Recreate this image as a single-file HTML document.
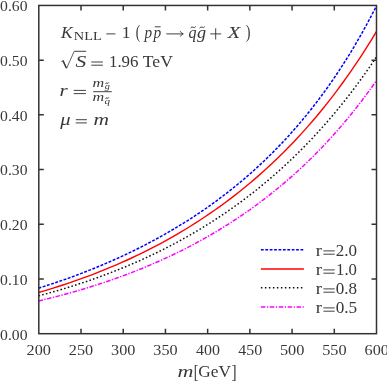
<!DOCTYPE html>
<html><head><meta charset="utf-8"><style>
html,body{margin:0;padding:0;background:#fff;}
svg{display:block;font-family:"Liberation Serif",serif;fill:#383838;}
</style></head><body>
<svg width="387" height="381" viewBox="0 0 387 381">
<rect width="387" height="381" fill="#fff"/>
<g fill="none" stroke-width="1.5">
<path d="M38.50,288.17 L43.40,286.63 L48.30,285.06 L53.20,283.44 L58.09,281.79 L62.99,280.09 L67.89,278.36 L72.79,276.58 L77.69,274.77 L82.59,272.90 L87.49,271.00 L92.38,269.05 L97.28,267.06 L102.18,265.01 L107.08,262.92 L111.98,260.78 L116.88,258.60 L121.78,256.36 L126.67,254.06 L131.57,251.72 L136.47,249.32 L141.37,246.86 L146.27,244.34 L151.17,241.77 L156.07,239.13 L160.96,236.43 L165.86,233.67 L170.76,230.84 L175.66,227.94 L180.56,224.98 L185.46,221.94 L190.36,218.82 L195.25,215.63 L200.15,212.35 L205.05,209.00 L209.95,205.56 L214.85,202.03 L219.75,198.42 L224.64,194.70 L229.54,190.90 L234.44,186.99 L239.34,182.97 L244.24,178.85 L249.14,174.62 L254.04,170.27 L258.93,165.80 L263.83,161.20 L268.73,156.48 L273.63,151.61 L278.53,146.61 L283.43,141.47 L288.33,136.17 L293.22,130.71 L298.12,125.09 L303.02,119.29 L307.92,113.32 L312.82,107.16 L317.72,100.81 L322.62,94.25 L327.51,87.49 L332.41,80.50 L337.31,73.28 L342.21,65.82 L347.11,58.11 L352.01,50.14 L356.91,41.89 L361.80,33.35 L366.70,24.51 L371.60,15.36 L376.50,5.88" stroke="#0000ff" stroke-dasharray="2.9,1.5"/>
<path d="M38.50,292.48 L43.40,291.05 L48.30,289.59 L53.20,288.08 L58.09,286.54 L62.99,284.96 L67.89,283.33 L72.79,281.66 L77.69,279.95 L82.59,278.19 L87.49,276.39 L92.38,274.55 L97.28,272.65 L102.18,270.71 L107.08,268.72 L111.98,266.68 L116.88,264.59 L121.78,262.44 L126.67,260.25 L131.57,258.00 L136.47,255.69 L141.37,253.32 L146.27,250.90 L151.17,248.42 L156.07,245.88 L160.96,243.27 L165.86,240.60 L170.76,237.87 L175.66,235.07 L180.56,232.20 L185.46,229.26 L190.36,226.25 L195.25,223.16 L200.15,220.00 L205.05,216.76 L209.95,213.45 L214.85,210.04 L219.75,206.56 L224.64,202.99 L229.54,199.33 L234.44,195.58 L239.34,191.74 L244.24,187.79 L249.14,183.76 L254.04,179.61 L258.93,175.37 L263.83,171.01 L268.73,166.55 L273.63,161.96 L278.53,157.26 L283.43,152.44 L288.33,147.50 L293.22,142.42 L298.12,137.21 L303.02,131.86 L307.92,126.37 L312.82,120.73 L317.72,114.94 L322.62,108.99 L327.51,102.88 L332.41,96.60 L337.31,90.14 L342.21,83.51 L347.11,76.69 L352.01,69.68 L356.91,62.46 L361.80,55.04 L366.70,47.41 L371.60,39.55 L376.50,31.47" stroke="#ff0000" stroke-width="1.4"/>
<path d="M38.50,295.87 L43.40,294.56 L48.30,293.22 L53.20,291.84 L58.09,290.42 L62.99,288.97 L67.89,287.48 L72.79,285.95 L77.69,284.38 L82.59,282.76 L87.49,281.11 L92.38,279.41 L97.28,277.67 L102.18,275.88 L107.08,274.05 L111.98,272.17 L116.88,270.24 L121.78,268.27 L126.67,266.24 L131.57,264.17 L136.47,262.04 L141.37,259.86 L146.27,257.62 L151.17,255.33 L156.07,252.99 L160.96,250.58 L165.86,248.12 L170.76,245.59 L175.66,243.00 L180.56,240.35 L185.46,237.64 L190.36,234.85 L195.25,232.00 L200.15,229.08 L205.05,226.09 L209.95,223.02 L214.85,219.88 L219.75,216.66 L224.64,213.37 L229.54,209.99 L234.44,206.52 L239.34,202.98 L244.24,199.34 L249.14,195.62 L254.04,191.80 L258.93,187.89 L263.83,183.88 L268.73,179.76 L273.63,175.55 L278.53,171.23 L283.43,166.80 L288.33,162.26 L293.22,157.60 L298.12,152.82 L303.02,147.93 L307.92,142.90 L312.82,137.74 L317.72,132.45 L322.62,127.03 L327.51,121.46 L332.41,115.74 L337.31,109.87 L342.21,103.84 L347.11,97.66 L352.01,91.30 L356.91,84.78 L361.80,78.07 L366.70,71.18 L371.60,64.11 L376.50,56.83" stroke="#111" stroke-dasharray="1.6,2.2"/>
<path d="M38.50,300.97 L43.40,299.81 L48.30,298.62 L53.20,297.39 L58.09,296.12 L62.99,294.83 L67.89,293.49 L72.79,292.13 L77.69,290.72 L82.59,289.28 L87.49,287.79 L92.38,286.27 L97.28,284.71 L102.18,283.11 L107.08,281.46 L111.98,279.78 L116.88,278.05 L121.78,276.27 L126.67,274.45 L131.57,272.58 L136.47,270.66 L141.37,268.69 L146.27,266.68 L151.17,264.61 L156.07,262.49 L160.96,260.32 L165.86,258.09 L170.76,255.80 L175.66,253.46 L180.56,251.05 L185.46,248.59 L190.36,246.06 L195.25,243.47 L200.15,240.82 L205.05,238.09 L209.95,235.30 L214.85,232.44 L219.75,229.50 L224.64,226.49 L229.54,223.40 L234.44,220.23 L239.34,216.99 L244.24,213.66 L249.14,210.24 L254.04,206.73 L258.93,203.13 L263.83,199.44 L268.73,195.66 L273.63,191.77 L278.53,187.78 L283.43,183.69 L288.33,179.48 L293.22,175.17 L298.12,170.74 L303.02,166.19 L307.92,161.51 L312.82,156.71 L317.72,151.78 L322.62,146.71 L327.51,141.50 L332.41,136.14 L337.31,130.64 L342.21,124.98 L347.11,119.16 L352.01,113.17 L356.91,107.01 L361.80,100.67 L366.70,94.15 L371.60,87.44 L376.50,80.52" stroke="#ff00ff" stroke-dasharray="4.5,1.5,1.3,1.5"/>
<path d="M260.9,249.8 H303.9" stroke="#0000ff" stroke-dasharray="2.8,1.6"/>
<path d="M260.9,269.0 H303.9" stroke="#ff0000" stroke-width="1.4"/>
<path d="M260.9,287.8 H303.9" stroke="#111" stroke-dasharray="1.5,2.5"/>
<path d="M260.9,306.9 H303.9" stroke="#ff00ff" stroke-dasharray="4.5,1.6,1.2,1.6"/>
</g>
<g fill="none" stroke="#333" stroke-width="1.5">
<rect x="38.8" y="5.45" width="337.7" height="328.25"/>
<path d="M81.01,333.7 v-5 M81.01,5.45 v5 M123.22,333.7 v-5 M123.22,5.45 v5 M165.44,333.7 v-5 M165.44,5.45 v5 M207.65,333.7 v-5 M207.65,5.45 v5 M249.86,333.7 v-5 M249.86,5.45 v5 M292.07,333.7 v-5 M292.07,5.45 v5 M334.29,333.7 v-5 M334.29,5.45 v5 M38.8,278.99 h5 M376.5,278.99 h-5 M38.8,224.28 h5 M376.5,224.28 h-5 M38.8,169.57 h5 M376.5,169.57 h-5 M38.8,114.87 h5 M376.5,114.87 h-5 M38.8,60.16 h5 M376.5,60.16 h-5"/>
</g>
<g style="opacity:0.999"><text transform="translate(60.97,37.7) scale(1.005,1)" font-size="17.2px" font-style="italic">K</text><text transform="translate(73.83,40.4) scale(1.12,1)" font-size="12.8px">NLL</text><text transform="translate(121.76,37.7) scale(1.094,1)" font-size="16.2px">1</text><text transform="translate(135.76,38.3) scale(0.808,1.17)" font-size="16.6px">(</text><text transform="translate(144.52,37.7) scale(0.917,1)" font-size="16.6px" font-style="italic">p</text><text transform="translate(153.53,37.7) scale(0.928,1)" font-size="16.6px" font-style="italic">p</text><text transform="translate(188.42,37.7) scale(0.968,1)" font-size="16.6px" font-style="italic">q</text><text transform="translate(197.0,37.7) scale(1.098,1)" font-size="16.6px" font-style="italic">g</text><text transform="translate(227.8,37.7) scale(1.191,1)" font-size="17.2px" font-style="italic">X</text><text transform="translate(245.77,38.3) scale(0.854,1.17)" font-size="16.6px">)</text><text transform="translate(75.59,66.7) scale(1.249,1)" font-size="17.2px" font-style="italic">S</text><text transform="translate(108.93,66.7) scale(1.044,1)" font-size="16.2px">1.96</text><text transform="translate(142.86,66.7) scale(1.023,1)" font-size="17.2px">TeV</text><text transform="translate(59.45,95.8) scale(1.269,1)" font-size="16.6px" font-style="italic">r</text><text transform="translate(92.6,86.5) scale(1.391,1)" font-size="11.6px" font-style="italic">m</text><text transform="translate(104.8,88.6) scale(1.108,1)" font-size="9.2px" font-style="italic">g</text><text transform="translate(92.6,101.4) scale(1.391,1)" font-size="11.6px" font-style="italic">m</text><text transform="translate(104.4,103.5) scale(1.2,1)" font-size="9.2px" font-style="italic">q</text><text transform="translate(60.3,124.5) scale(1.239,1)" font-size="16.6px" font-style="italic">μ</text><text transform="translate(93.54,124.5) scale(1.294,1)" font-size="16.6px" font-style="italic">m</text><text transform="translate(177.51,377.4) scale(1.331,1)" font-size="16.6px" font-style="italic">m</text><text transform="translate(193.63,377.7) scale(0.835,1.17)" font-size="16.6px">[</text><text transform="translate(198.33,377.2) scale(1.007,1)" font-size="17.2px">GeV</text><text transform="translate(231.48,377.7) scale(0.927,1.17)" font-size="16.6px">]</text><text transform="translate(315.63,256.0) scale(1.12,1)" font-size="16.6px">r</text><text transform="translate(335.7,256.0) scale(1.053,1)" font-size="16.2px">2.0</text><text transform="translate(315.63,275.0) scale(1.12,1)" font-size="16.6px">r</text><text transform="translate(336.05,275.0) scale(1.035,1)" font-size="16.2px">1.0</text><text transform="translate(315.63,294.0) scale(1.12,1)" font-size="16.6px">r</text><text transform="translate(335.7,294.0) scale(1.053,1)" font-size="16.2px">0.8</text><text transform="translate(315.63,313.0) scale(1.12,1)" font-size="16.6px">r</text><text transform="translate(335.69,313.0) scale(1.062,1)" font-size="16.2px">0.5</text><text transform="translate(26.59,354.8) scale(1.065,1)" font-size="15.2px">200</text><text transform="translate(68.84,354.8) scale(1.065,1)" font-size="15.2px">250</text><text transform="translate(111.09,354.8) scale(1.065,1)" font-size="15.2px">300</text><text transform="translate(153.34,354.8) scale(1.065,1)" font-size="15.2px">350</text><text transform="translate(195.95,354.8) scale(1.049,1)" font-size="15.2px">400</text><text transform="translate(238.2,354.8) scale(1.049,1)" font-size="15.2px">450</text><text transform="translate(279.91,354.8) scale(1.073,1)" font-size="15.2px">500</text><text transform="translate(322.16,354.8) scale(1.073,1)" font-size="15.2px">550</text><text transform="translate(364.59,354.8) scale(1.065,1)" font-size="15.2px">600</text><text transform="translate(0.08,339.5) scale(1.031,1)" font-size="15.2px">0.00</text><text transform="translate(0.08,284.75) scale(1.031,1)" font-size="15.2px">0.10</text><text transform="translate(0.08,230.0) scale(1.031,1)" font-size="15.2px">0.20</text><text transform="translate(0.08,175.25) scale(1.031,1)" font-size="15.2px">0.30</text><text transform="translate(0.08,120.5) scale(1.031,1)" font-size="15.2px">0.40</text><text transform="translate(0.08,65.75) scale(1.031,1)" font-size="15.2px">0.50</text><text transform="translate(0.08,11.0) scale(1.031,1)" font-size="15.2px">0.60</text></g>
<path d="M106.3,33.9 H115.4 M210.2,33.9 H221.2 M215.7,28.3 V39.5 M166.3,33.9 H183 M180.2,31.2 Q181.2,33.2 183.3,33.9 Q181.2,34.6 180.2,36.6 M91.3,62.0 H102.9 M91.3,65.2 H102.9 M73.7,90.4 H85.9 M73.7,93.6 H85.9 M75.8,119.7 H86.9 M75.8,122.9 H86.9 M323.4,250.9 H334.7 M323.4,254.2 H334.7 M323.4,269.9 H334.7 M323.4,273.2 H334.7 M323.4,288.9 H334.7 M323.4,292.2 H334.7 M323.4,307.9 H334.7 M323.4,311.2 H334.7 M154.8,26.8 H160.6 M93.2,91.7 H111.8 M74.2,51.3 H86.2 M190.6,28.1 q1.3,-1.8 2.6,-0.8 t2.6,-0.8 M199.6,28.1 q1.3,-1.8 2.6,-0.8 t2.6,-0.8 M105.6,84.0 q0.8,-1.8 1.6,-0.8 t1.6,-0.8 M105.6,98.89999999999999 q0.8,-1.8 1.6,-0.8 t1.6,-0.8" fill="none" stroke="#383838" stroke-width="0.95"/>
<path d="M61.3,61.8 L63.2,60.6 L66.6,68.3 L74.2,51.3" fill="none" stroke="#383838" stroke-width="0.8" stroke-linejoin="miter"/>
<path d="M62.9,60.6 L66.3,68.0" fill="none" stroke="#383838" stroke-width="1.4"/>
</svg>
</body></html>
